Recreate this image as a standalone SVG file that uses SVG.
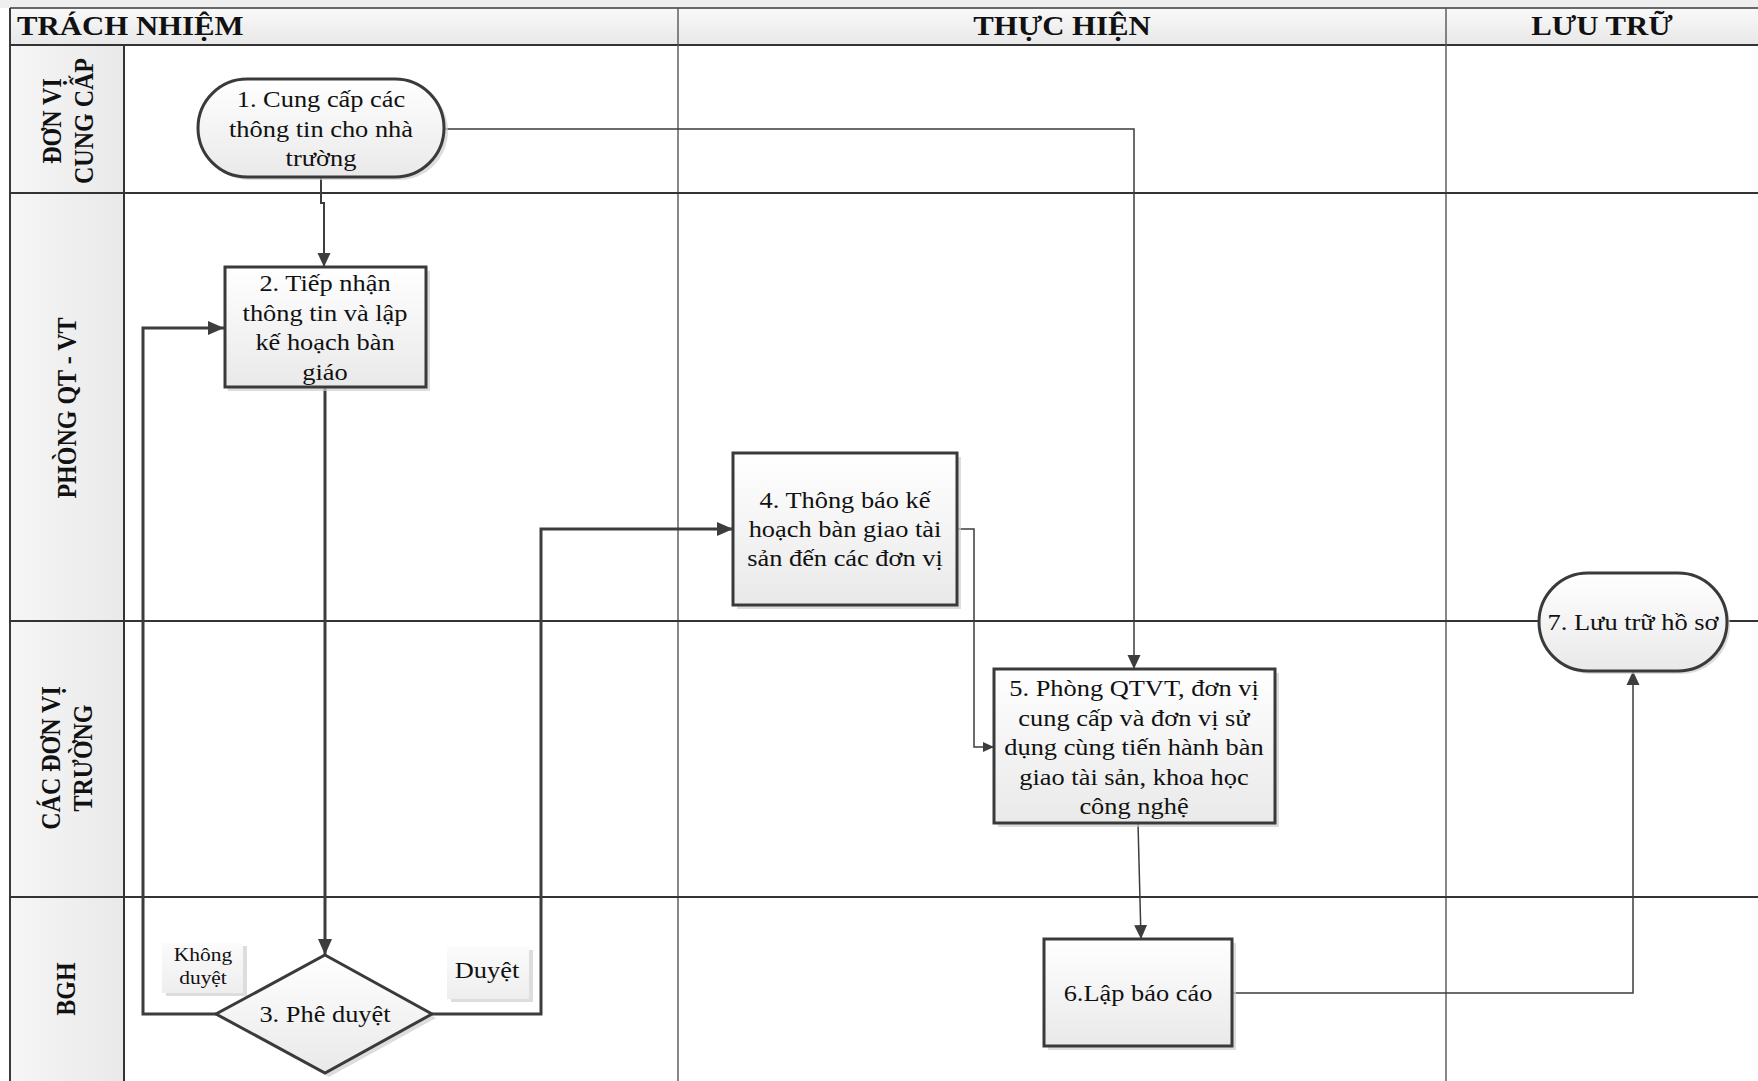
<svg xmlns="http://www.w3.org/2000/svg" width="1758" height="1081" viewBox="0 0 1758 1081">
<defs>
  <linearGradient id="hdr" x1="0" y1="0" x2="0" y2="1">
    <stop offset="0" stop-color="#f9f9f9"/>
    <stop offset="1" stop-color="#e8e8e8"/>
  </linearGradient>
  <linearGradient id="lanecol" x1="0" y1="0" x2="1" y2="0">
    <stop offset="0" stop-color="#f6f6f6"/>
    <stop offset="1" stop-color="#e9e9e9"/>
  </linearGradient>
  <linearGradient id="nodefill" x1="0" y1="0" x2="0" y2="1">
    <stop offset="0" stop-color="#ffffff"/>
    <stop offset="1" stop-color="#e9e9e9"/>
  </linearGradient>
  <linearGradient id="lblfill" x1="0" y1="0" x2="0" y2="1">
    <stop offset="0" stop-color="#fbfbfb"/>
    <stop offset="1" stop-color="#eeeeee"/>
  </linearGradient>
  <marker id="ahBig" markerUnits="userSpaceOnUse" markerWidth="18" markerHeight="14" refX="16" refY="7" orient="auto">
    <path d="M0,0 L16,7 L0,14 Z" fill="#3d3d3d"/>
  </marker>
  <marker id="ahMid" markerUnits="userSpaceOnUse" markerWidth="16" markerHeight="14" refX="14" refY="7" orient="auto">
    <path d="M0,0.5 L14,7 L0,13.5 Z" fill="#3d3d3d"/>
  </marker>
  <marker id="ahSmall" markerUnits="userSpaceOnUse" markerWidth="12" markerHeight="12" refX="11" refY="6" orient="auto">
    <path d="M0,1 L11,6 L0,11 Z" fill="#3d3d3d"/>
  </marker>
  <style>
    .frame{stroke:#3a3a3a;fill:none}
    .lane{stroke:#333;stroke-width:2;fill:none}
    .col{stroke:#555;stroke-width:1.4;fill:none}
    .node{fill:url(#nodefill);stroke:#3a3a3a;stroke-width:3}
    .shadow{fill:#cfcfcf;opacity:0.7}
    .conn{fill:none;stroke:#3d3d3d;stroke-linejoin:miter}
    .thick{stroke-width:3}
    .mid{stroke-width:2}
    .thin{stroke-width:1.5}
    .t{font-family:"Liberation Serif","Times New Roman",serif;font-size:24px;fill:#111;text-anchor:middle}
    .ts{font-family:"Liberation Serif","Times New Roman",serif;font-size:19.5px;fill:#111;text-anchor:middle}
    .hd{font-family:"Liberation Serif","Times New Roman",serif;font-size:28px;font-weight:bold;fill:#111}
    .ln{font-family:"Liberation Serif","Times New Roman",serif;font-size:24px;font-weight:bold;fill:#111;text-anchor:middle}
  </style>
</defs>

<rect x="0" y="0" width="1758" height="1081" fill="#ffffff"/>

<g id="swimlanes">
  <rect x="0" y="0" width="1758" height="8" fill="#efefef"/>
  <rect x="10" y="8" width="1748" height="37" fill="url(#hdr)"/>
  <rect x="10" y="45" width="114" height="1036" fill="url(#lanecol)"/>
  <line class="frame" x1="10" y1="8" x2="1758" y2="8" stroke-width="1.6"/>
  <line class="frame" x1="10" y1="8" x2="10" y2="1081" stroke-width="2"/>
  <line class="lane" x1="10" y1="45" x2="1758" y2="45"/>
  <line class="col" x1="678" y1="8" x2="678" y2="1081"/>
  <line class="col" x1="1446" y1="8" x2="1446" y2="1081"/>
  <line class="lane" x1="124" y1="45" x2="124" y2="1081"/>
  <line class="lane" x1="10" y1="193" x2="1758" y2="193"/>
  <line class="lane" x1="10" y1="621" x2="1758" y2="621"/>
  <line class="lane" x1="10" y1="897" x2="1758" y2="897"/>

  <text class="hd" transform="translate(17 35) scale(1.1 1)">TRÁCH NHIỆM</text>
  <text class="hd" text-anchor="middle" transform="translate(1062 35) scale(1.1 1)">THỰC HIỆN</text>
  <text class="hd" text-anchor="middle" transform="translate(1602 35) scale(1.1 1)">LƯU TRỮ</text>

  <text class="ln" transform="translate(52 121) scale(1.1 1) rotate(-90)" y="8">ĐƠN VỊ</text>
  <text class="ln" transform="translate(84 121) scale(1.1 1) rotate(-90)" y="8">CUNG CẤP</text>
  <text class="ln" transform="translate(67 408) scale(1.1 1) rotate(-90)" y="8">PHÒNG QT - VT</text>
  <text class="ln" transform="translate(51 758) scale(1.1 1) rotate(-90)" y="8">CÁC ĐƠN VỊ</text>
  <text class="ln" transform="translate(83 758) scale(1.1 1) rotate(-90)" y="8">TRƯỜNG</text>
  <text class="ln" transform="translate(66 989) scale(1.1 1) rotate(-90)" y="8">BGH</text>
</g>

<g id="connectors">
  <path class="conn mid" d="M321,177 V203 H324 V267" marker-end="url(#ahMid)"/>
  <path class="conn thick" d="M325,387 V955" marker-end="url(#ahBig)"/>
  <path class="conn thick" d="M216,1014 H143 V328 H224" marker-end="url(#ahBig)"/>
  <path class="conn thick" d="M432,1014 H541 V529 H733" marker-end="url(#ahBig)"/>
  <path class="conn thin" d="M444,129 H1134 V669" marker-end="url(#ahMid)"/>
  <path class="conn thin" d="M957,529 H974 V747 H994" marker-end="url(#ahSmall)"/>
  <path class="conn thin" d="M1138,823 L1141,939" marker-end="url(#ahMid)"/>
  <path class="conn thin" d="M1232,993 H1633 V671" marker-end="url(#ahMid)"/>
</g>

<g id="lbl-khong-duyet">
  <rect x="166" y="946" width="81" height="50" class="shadow"/>
  <rect x="162" y="943" width="81" height="50" fill="url(#lblfill)"/>
  <text class="ts" transform="translate(203 961) scale(1.1 1)">Không</text>
  <text class="ts" transform="translate(203 984) scale(1.1 1)">duyệt</text>
</g>

<g id="lbl-duyet">
  <rect x="451" y="950" width="82" height="52" class="shadow"/>
  <rect x="447" y="947" width="82" height="52" fill="url(#lblfill)"/>
  <text class="t" transform="translate(487 978) scale(1.1 1)">Duyệt</text>
</g>

<g id="node1">
  <rect x="201" y="82" width="247" height="98" rx="49" class="shadow"/>
  <rect x="198" y="79" width="246" height="98" rx="49" class="node"/>
  <text class="t" transform="translate(321 107) scale(1.1 1)">1. Cung cấp các</text>
  <text class="t" transform="translate(321 136.5) scale(1.1 1)">thông tin cho nhà</text>
  <text class="t" transform="translate(321 166) scale(1.1 1)">trường</text>
</g>

<g id="node2">
  <rect x="228" y="271" width="202" height="120" class="shadow"/>
  <rect x="225" y="267" width="201" height="120" class="node"/>
  <text class="t" transform="translate(325 291) scale(1.1 1)">2. Tiếp nhận</text>
  <text class="t" transform="translate(325 320.5) scale(1.1 1)">thông tin và lập</text>
  <text class="t" transform="translate(325 350) scale(1.1 1)">kế hoạch bàn</text>
  <text class="t" transform="translate(325 379.5) scale(1.1 1)">giáo</text>
</g>

<g id="node3">
  <polygon points="329,959 436,1018 329,1077 220,1018" class="shadow"/>
  <polygon points="325,955 432,1014 325,1073 216,1014" class="node"/>
  <text class="t" transform="translate(325 1022) scale(1.1 1)">3. Phê duyệt</text>
</g>

<g id="node4">
  <rect x="737" y="457" width="224" height="152" class="shadow"/>
  <rect x="733" y="453" width="224" height="152" class="node"/>
  <text class="t" transform="translate(845 508) scale(1.1 1)">4. Thông báo kế</text>
  <text class="t" transform="translate(845 537) scale(1.1 1)">hoạch bàn giao tài</text>
  <text class="t" transform="translate(845 566) scale(1.1 1)">sản đến các đơn vị</text>
</g>

<g id="node5">
  <rect x="998" y="673" width="281" height="154" class="shadow"/>
  <rect x="994" y="669" width="281" height="154" class="node"/>
  <text class="t" transform="translate(1134 696) scale(1.1 1)">5. Phòng QTVT, đơn vị</text>
  <text class="t" transform="translate(1134 725.5) scale(1.1 1)">cung cấp và đơn vị sử</text>
  <text class="t" transform="translate(1134 755) scale(1.1 1)">dụng cùng tiến hành bàn</text>
  <text class="t" transform="translate(1134 784.5) scale(1.1 1)">giao tài sản, khoa học</text>
  <text class="t" transform="translate(1134 814) scale(1.1 1)">công nghệ</text>
</g>

<g id="node6">
  <rect x="1048" y="943" width="188" height="107" class="shadow"/>
  <rect x="1044" y="939" width="188" height="107" class="node"/>
  <text class="t" transform="translate(1138 1001) scale(1.1 1)">6.Lập báo cáo</text>
</g>

<g id="node7">
  <rect x="1542" y="576" width="188" height="98" rx="49" class="shadow"/>
  <rect x="1539" y="573" width="188" height="98" rx="49" class="node"/>
  <text class="t" transform="translate(1633 630) scale(1.1 1)">7. Lưu trữ hồ sơ</text>
</g>
</svg>
